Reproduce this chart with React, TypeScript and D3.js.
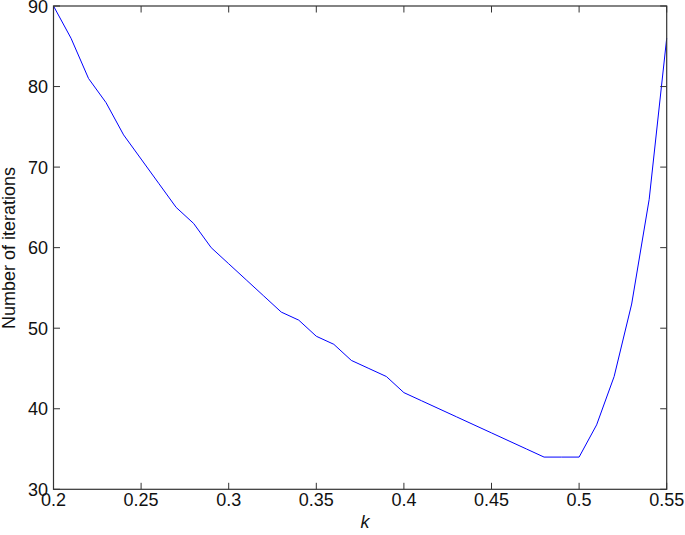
import React from "react";
import * as d3 from "d3";

const kValues = [0.2,0.21,0.22,0.23,0.24,0.25,0.26,0.27,0.28,0.29,0.3,0.31,0.32,0.33,0.34,0.35,0.36,0.37,0.38,0.39,0.4,0.41,0.42,0.43,0.44,0.45,0.46,0.47,0.48,0.49,0.5,0.51,0.52,0.53,0.54,0.55];
const iterations = [90,86,81,78,74,71,68,65,63,60,58,56,54,52,51,49,48,46,45,44,42,41,40,39,38,37,36,35,34,34,34,38,44,53,66,86];
const xTicks = [0.2,0.25,0.3,0.35,0.4,0.45,0.5,0.55];
const yTicks = [30,40,50,60,70,80,90];

export default function App() {
  const W = 685, H = 535;
  const L = 53.5, R = 666.7, T = 6, B = 489.3;
  const x = d3.scaleLinear().domain([0.2, 0.55]).range([L, R]);
  const y = d3.scaleLinear().domain([30, 90]).range([B, T]);
  const line = d3.line<number>().x((_, i) => x(kValues[i])).y(d => y(d));
  const tl = 6.5;
  const font = "'Liberation Sans', Arial, Helvetica, sans-serif";
  const fs = 18;
  return (
    <svg width={W} height={H} style={{ position: "absolute", left: 0, top: 0 }} fontFamily={font}>
      <rect x={0} y={0} width={W} height={H} fill="#fff" />
      <path d={line(iterations) || ""} fill="none" stroke="#0000ff" strokeWidth={1} />
      <rect x={L} y={T} width={R - L} height={B - T} fill="none" stroke="#333" strokeWidth={1.2} />
      {xTicks.map(t => (
        <g key={"x" + t}>
          <line x1={x(t)} x2={x(t)} y1={B} y2={B - tl} stroke="#333" />
          <line x1={x(t)} x2={x(t)} y1={T} y2={T + tl} stroke="#333" />
          <text x={x(t)} y={506} textAnchor="middle" fontSize={fs} fill="#111">{String(t)}</text>
        </g>
      ))}
      {yTicks.map(t => (
        <g key={"y" + t}>
          <line x1={L} x2={L + tl} y1={y(t)} y2={y(t)} stroke="#333" />
          <line x1={R} x2={R - tl} y1={y(t)} y2={y(t)} stroke="#333" />
          <text x={48} y={y(t) + 6.5} textAnchor="end" fontSize={fs} fill="#111">{String(t)}</text>
        </g>
      ))}
      <text x={365} y={528} textAnchor="middle" fontSize={fs} fontStyle="italic" fill="#111">k</text>
      <text transform={`translate(14.5,248) rotate(-90)`} textAnchor="middle" fontSize={fs} fill="#111">Number of iterations</text>
    </svg>
  );
}
